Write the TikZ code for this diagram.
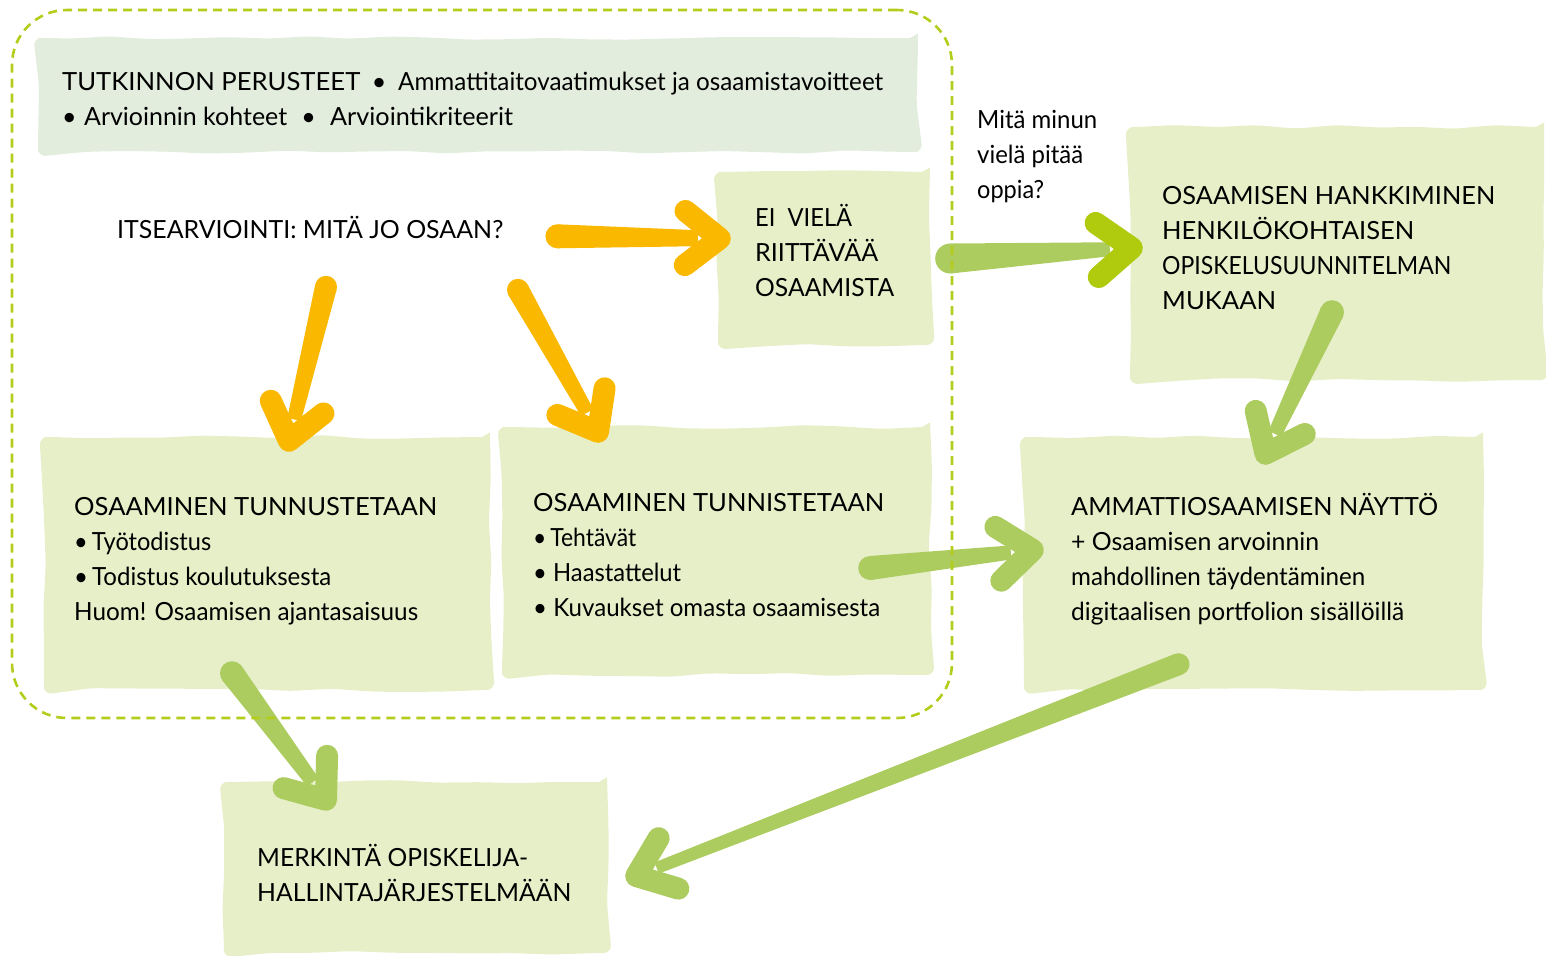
\documentclass[tikz,border=0pt]{standalone}
\usepackage{fontspec}
\setmainfont{Lato}
\usepackage{graphicx}
\usetikzlibrary{calc,decorations.pathmorphing}
\definecolor{boxfill}{RGB}{231,239,201}
\definecolor{topfill}{RGB}{226,237,221}
\definecolor{orangeA}{RGB}{250,185,0}
\definecolor{greenA}{RGB}{173,204,96}
\definecolor{greenB}{RGB}{176,202,14}
\definecolor{dashc}{RGB}{180,205,28}
\newcommand\fl[2]{\resizebox{#1pt}{\height}{#2}}
\newcommand\st{\rule{0pt}{24pt}}
% #1 body colour, #2 head colour, #3 start, #4 tip, #5 half width start, #6 half width end
\newcommand\brusharrow[6]{%
  \coordinate (bbe) at ($(#4)!22pt!(#3)$);
  \fill[#1] ($(#3)!#5!90:(bbe)$) -- ($(bbe)!#6!-90:(#3)$) -- ($(bbe)!#6!90:(#3)$) -- ($(#3)!#5!-90:(bbe)$) -- cycle;
  \fill[#1] (#3) circle (#5);
  \draw[#2, line width=22pt, line cap=round, line join=round] ($(#4)!44pt!38:(#3)$) -- (#4) -- ($(#4)!44pt!-38:(#3)$);
}
\tikzset{
  roughbox/.style={fill=boxfill, inner sep=0pt, decorate,
    decoration={random steps, segment length=40pt, amplitude=2pt}, rounded corners=8pt},
  txt/.style={anchor=north west, inner sep=0pt, align=left, font=\fontsize{25}{35}\selectfont},
  frame/.style={draw=dashc, line width=2.6pt, dash pattern=on 9pt off 6pt, rounded corners=55pt, inner sep=0pt}
}
\begin{document}
\begin{tikzpicture}[x=1pt,y=-1pt]
\pgfmathsetseed{11}
\useasboundingbox (0,0) rectangle (1546,955);
% boxes
\node[roughbox, fill=topfill, minimum width=880pt, minimum height=114pt] (tp) at (478,95) {};
\node[roughbox, minimum width=212pt, minimum height=173pt] (ei) at (824,258.5) {};
\node[roughbox, minimum width=414pt, minimum height=253pt] (hank) at (1337,253.5) {};
\node[roughbox, minimum width=446pt, minimum height=253pt] (tunnus) at (267,563.5) {};
\node[roughbox, minimum width=428pt, minimum height=248pt] (tunnis) at (716,551) {};
\node[roughbox, minimum width=459pt, minimum height=253pt] (naytto) at (1253.5,563.5) {};
\node[roughbox, minimum width=383pt, minimum height=171pt] (merk) at (415.5,867.5) {};
% texts
\node[txt] (t0) at (62,66) {\st\fl{298}{TUTKINNON PERUSTEET}\makebox[38pt]{•}\fl{485}{Ammattitaitovaatimukset ja osaamistavoitteet}\\
  \makebox[22pt][l]{•}\fl{203}{Arvioinnin kohteet}\makebox[43pt]{•}\fl{183}{Arviointikriteerit}};
\node[txt] (itse) at (117,214) {\st\fl{386}{ITSEARVIOINTI: MITÄ JO OSAAN?}};
\node[txt] (t1) at (755,202) {\st\fl{97}{EI\ \ VIELÄ}\\\fl{123}{RIITTÄVÄÄ}\\\fl{139}{OSAAMISTA}};
\node[txt] (tq) at (977,104) {\st\fl{120}{Mitä minun}\\\fl{106}{vielä pitää}\\\fl{67}{oppia?}};
\node[txt] (t2) at (1162,180) {\st\fl{333}{OSAAMISEN HANKKIMINEN}\\\fl{252}{HENKILÖKOHTAISEN}\\\fl{289}{OPISKELUSUUNNITELMAN}\\\fl{114}{MUKAAN}};
\node[txt] (t3) at (74,491) {\st\fl{363}{OSAAMINEN TUNNUSTETAAN}\\\fl{137}{•\,Työtodistus}\\\fl{257}{•\,Todistus koulutuksesta}\\\fl{344}{Huom! Osaamisen ajantasaisuus}};
\node[txt] (t4) at (533,487) {\st\fl{351}{OSAAMINEN TUNNISTETAAN}\\\fl{103}{•\,Tehtävät}\\\fl{148}{• Haastattelut}\\\fl{347}{• Kuvaukset omasta osaamisesta}};
\node[txt] (t5) at (1071,491) {\st\fl{367}{AMMATTIOSAAMISEN NÄYTTÖ}\\\fl{248}{+ Osaamisen arvoinnin}\\\fl{294}{mahdollinen täydentäminen}\\\fl{333}{digitaalisen portfolion sisällöillä}};
\node[txt] (t6) at (257,842) {\st\fl{271}{MERKINTÄ OPISKELIJA-}\\\fl{314}{HALLINTAJÄRJESTELMÄÄN}};
% arrow end points
\coordinate (a1s) at ($(itse.east)+(54,10)$);
\coordinate (a1t) at ($(ei.west)+(2,-20)$);
\coordinate (a2s) at ($(tunnus.north)+(59,-150)$);
\coordinate (a2t) at ($(tunnus.north)+(22,4)$);
\coordinate (a3s) at ($(tunnis.north)+(-198,-137)$);
\coordinate (a3t) at ($(tunnis.north)+(-118,5)$);
\coordinate (a4s) at ($(ei.east)+(20,0)$);
\coordinate (a4t) at ($(hank.west)+(2,-5.5)$);
\coordinate (a5s) at ($(hank.south)+(-5,-68)$);
\coordinate (a5t) at ($(naytto.north)+(12,17)$);
\coordinate (a6s) at ($(tunnis.east)+(-60,17)$);
\coordinate (a6t) at ($(naytto.west)+(9,-13.5)$);
\coordinate (a7s) at ($(tunnus.south)+(-35,-17)$);
\coordinate (a7t) at ($(merk.north)+(-89.5,18)$);
\coordinate (a8s) at ($(naytto.south)+(-75,-26)$);
\coordinate (a8t) at ($(merk.east)+(29,8.5)$);
% arrows
\brusharrow{orangeA}{orangeA}{a1s}{a1t}{12pt}{8pt}
\brusharrow{orangeA}{orangeA}{a2s}{a2t}{11pt}{7pt}
\brusharrow{orangeA}{orangeA}{a3s}{a3t}{11pt}{7pt}
\brusharrow{greenA}{greenB}{a4s}{a4t}{15pt}{7pt}
\brusharrow{greenA}{greenA}{a5s}{a5t}{12pt}{7pt}
\brusharrow{greenA}{greenA}{a6s}{a6t}{12pt}{7pt}
\brusharrow{greenA}{greenA}{a7s}{a7t}{12pt}{7pt}
\brusharrow{greenA}{greenA}{a8s}{a8t}{11pt}{6pt}
% dashed group frame
\node[frame, minimum width=940pt, minimum height=708pt] (grp) at (482,364) {};
\end{tikzpicture}
\end{document}
